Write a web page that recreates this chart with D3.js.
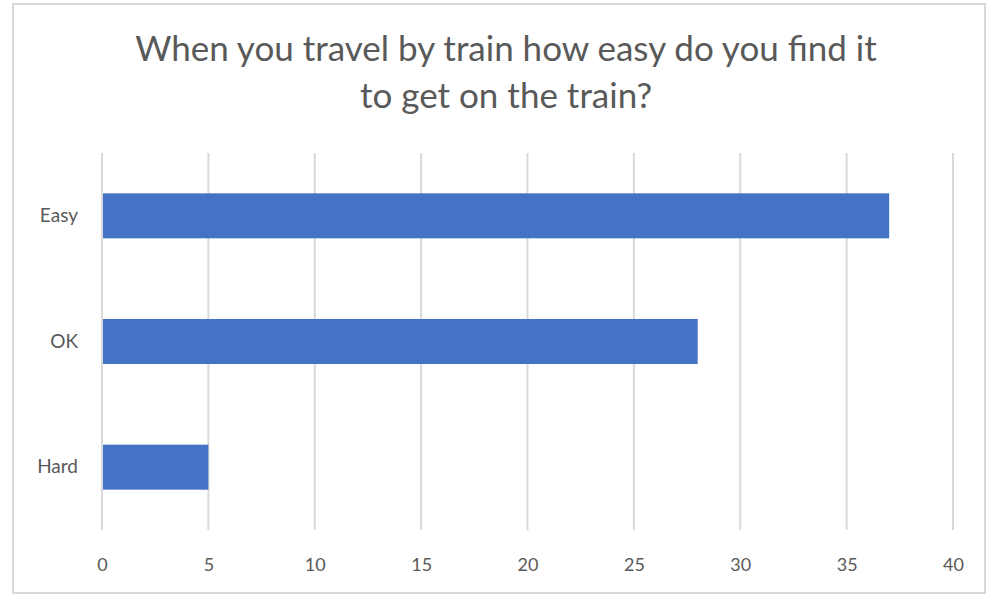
<!DOCTYPE html>
<html>
<head>
<meta charset="utf-8">
<script src="https://cdn.jsdelivr.net/npm/d3@7/dist/d3.min.js"></script>
<style>
  html, body { margin: 0; padding: 0; background: #fff; }
  svg { display: block; }
</style>
</head>
<body>
<svg id="chart" width="996" height="596"></svg>
<script>
// Survey responses: how easy is it to get on the train
const categories = ["Easy", "OK", "Hard"];
const counts = [37, 28, 5];
const xTicks = [0, 5, 10, 15, 20, 25, 30, 35, 40];
const titleLines = ["When you travel by train how easy do you find it", "to get on the train?"];

const svg = d3.select("#chart");
const font = "Lato, 'Open Sans', 'Liberation Sans', sans-serif";
const textColor = "#595959";

// chart frame
svg.append("rect")
  .attr("x", 13).attr("y", 4)
  .attr("width", 972).attr("height", 589)
  .attr("fill", "#fff")
  .attr("stroke", "#d9d9d9")
  .attr("stroke-width", 2);

// title
svg.append("g").selectAll("text")
  .data(titleLines)
  .join("text")
  .attr("x", 506)
  .attr("y", (d, i) => 61 + i * 47)
  .attr("text-anchor", "middle")
  .attr("font-family", font)
  .attr("font-size", 35)
  .attr("fill", textColor)
  .text(d => d);

const plot = { left: 102, right: 953, top: 153, bottom: 530 };

const x = d3.scaleLinear().domain([0, 40]).range([plot.left, plot.right]);
const y = d3.scaleBand().domain(categories).range([plot.top, plot.bottom]).paddingInner(0.642).paddingOuter(0.321);

// vertical gridlines
svg.append("g").selectAll("line")
  .data(xTicks)
  .join("line")
  .attr("x1", d => x(d)).attr("x2", d => x(d))
  .attr("y1", plot.top).attr("y2", plot.bottom)
  .attr("stroke", "#d9d9d9")
  .attr("stroke-width", 2);

// bars
svg.append("g").selectAll("rect")
  .data(categories.map((c, i) => ({ c, v: counts[i] })))
  .join("rect")
  .attr("x", x(0) + 1)
  .attr("y", d => y(d.c))
  .attr("width", d => x(d.v) - x(0) - 1)
  .attr("height", y.bandwidth())
  .attr("fill", "#4472c4");

// x axis labels
const xAxis = d3.axisBottom(x).tickValues(xTicks).tickSize(0).tickPadding(0);
const gx = svg.append("g").attr("transform", `translate(0, ${plot.bottom + 41})`).call(xAxis);
gx.select(".domain").remove();
gx.selectAll("text")
  .attr("font-family", font)
  .attr("font-size", 18)
  .attr("fill", textColor)
  .attr("dy", 0);

// y axis labels
const yAxis = d3.axisLeft(y).tickSize(0).tickPadding(0);
const gy = svg.append("g").attr("transform", `translate(78, 0)`).call(yAxis);
gy.select(".domain").remove();
gy.selectAll("text")
  .attr("font-family", font)
  .attr("font-size", 19)
  .attr("fill", textColor);
</script>
</body>
</html>
